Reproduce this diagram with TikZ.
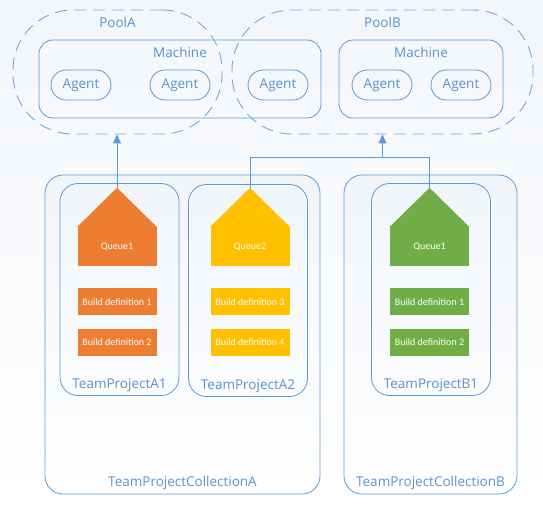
\documentclass[tikz,border=0pt]{standalone}
\usepackage{fontspec}
\setmainfont{Open Sans}
\newfontfamily\boxfont{Carlito}
\usepackage{tikz}
\usetikzlibrary{positioning,arrows.meta,calc}
\usepackage{xcolor}
\definecolor{lineblue}{HTML}{5B9BD5}
\definecolor{textblue}{HTML}{5A93CD}
\definecolor{qorange}{HTML}{ED7D31}
\definecolor{qyellow}{HTML}{FFC000}
\definecolor{qgreen}{HTML}{70AD47}
\definecolor{paleblue}{HTML}{EDF2F9}

\begin{document}
\begin{tikzpicture}[
                x=1pt, y=-1pt,
                pool/.style={draw=lineblue!85, line width=0.9pt, dash pattern=on 12pt off 7pt,
                    rounded corners=60pt, minimum height=124pt},
                machine/.style={draw=lineblue, line width=0.8pt, rounded corners=14pt, minimum height=78pt},
                agent/.style={draw=lineblue, line width=0.8pt, rounded corners=15pt,
                    minimum width=60pt, minimum height=30pt, text=textblue, font=\fontsize{13.5}{15}\selectfont},
                coll/.style={draw=lineblue, line width=0.8pt, rounded corners=18pt,
                    top color=paleblue!80, bottom color=white, minimum height=319pt},
                project/.style={draw=lineblue, line width=0.8pt, rounded corners=18pt,
                    minimum width=119pt, minimum height=212pt},
                tag/.style={inner sep=0pt, text=textblue, font=\fontsize{13.5}{15}\selectfont},
                queuebody/.style={minimum width=79pt, minimum height=39pt, inner sep=0pt,
                    text=white, font=\boxfont\fontsize{10}{12}\selectfont},
                build/.style={minimum width=79pt, minimum height=27pt, inner sep=0pt,
                    text=white, font=\boxfont\fontsize{10}{12}\selectfont},
                conn/.style={draw=lineblue, line width=1pt},
                node distance=13pt
            ]
                \useasboundingbox (0,0) rectangle (543,506);
                \shade[top color=paleblue!70, bottom color=white] (0,0) rectangle (543,506);

                % Collections and team projects
                \node[coll, minimum width=275pt] (collA) at (182.5,334.5) {};
                \node[coll, minimum width=173pt] (collB) at (430.5,334.5) {};
                \node[project] (tpA1) at (119.5,289.5) {};
                \node[project] (tpA2) at (248,290.5) {};
                \node[project] (tpB1) at (431,289.5) {};

                \node[tag, above=4pt of collA.south] (lcollA) {TeamProjectCollectionA};
                \node[tag, above=4pt of collB.south] (lcollB) {TeamProjectCollectionB};
                \node[tag, above=4pt of tpA1.south] (ltpA1) {TeamProjectA1};
                \node[tag, above=4pt of tpA2.south] (ltpA2) {TeamProjectA2};
                \node[tag, above=4pt of tpB1.south] (ltpB1) {TeamProjectB1};

                % Queues (body plus roof)
                \node[queuebody, fill=qorange] (qA1) at (117,246.5) {Queue1};
                \node[queuebody, fill=qyellow] (qA2) at (250,246.5) {Queue2};
                \node[queuebody, fill=qgreen] (qB1) at (429.5,246.5) {Queue1};
                \foreach \q/\c in {qA1/qorange, qA2/qyellow, qB1/qgreen} {
                    \coordinate (\q top) at ($(\q.north)+(0,-39)$);
                    \fill[\c] (\q.north west) -- (\q top) -- (\q.north east) -- cycle;
                }

                % Build definitions
                \node[build, fill=qorange, below=22pt of qA1] (bdA1) {Build definition 1};
                \node[build, fill=qorange, below=of bdA1] (bdA2) {Build definition 2};
                \node[build, fill=qyellow, below=22pt of qA2] (bdA3) {Build definition 3};
                \node[build, fill=qyellow, below=of bdA3] (bdA4) {Build definition 4};
                \node[build, fill=qgreen, below=22pt of qB1] (bdB1) {Build definition 1};
                \node[build, fill=qgreen, below=of bdB1] (bdB2) {Build definition 2};

                % Pools, machines and agents
                \node[machine, minimum width=282pt] (machA) at (180,79) {};
                \node[machine, minimum width=164pt] (machB) at (421,79) {};
                \node[pool, minimum width=209pt] (poolA) at (117.5,72) {};
                \node[pool, minimum width=301pt] (poolB) at (382.5,72) {};

                \node[tag, below=7pt of poolA.north] (lpoolA) {PoolA};
                \node[tag, below=7pt of poolB.north] (lpoolB) {PoolB};
                \node[tag, below=7pt of machA.north] (lmachA) {Machine};
                \node[tag, below=7pt of machB.north] (lmachB) {Machine};

                \node[agent] (ag1) at (81,85) {Agent};
                \node[agent] (ag2) at (180,85) {Agent};
                \node[agent] (ag3) at (278,85) {Agent};
                \node[agent] (ag4) at (382,85) {Agent};
                \node[agent] (ag5) at (461,85) {Agent};

                % Queues to pools
                \draw[conn, -{Triangle[width=8pt,length=9pt]}] (qA1top) -- (qA1top |- poolA.south);
                \coordinate (join) at ($(qA2top)+(0,-30)$);
                \draw[conn] (qA2top) -- (join) -| (qB1top);
                \draw[conn, -{Triangle[width=8pt,length=9pt]}] (join -| poolB.south) -- (poolB.south);
            \end{tikzpicture}
\end{document}
